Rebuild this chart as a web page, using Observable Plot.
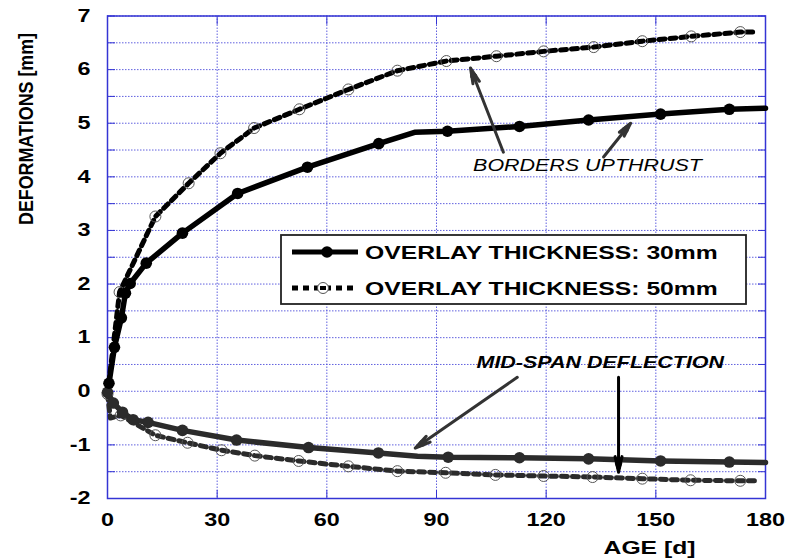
<!DOCTYPE html>
<html>
<head>
<meta charset="utf-8">
<script src="https://cdn.jsdelivr.net/npm/d3@7"></script>
<script src="https://cdn.jsdelivr.net/npm/@observablehq/plot@0.6"></script>
<style>
  body { margin: 0; background: #fff; }
  #wrap { position: relative; width: 790px; height: 559px; }
  #legend { position: absolute; left: 280px; top: 234px; }
  text { font-family: "Liberation Sans", Arial, sans-serif; }
</style>
</head>
<body>
<div id="wrap"></div>
<script>
// ---------- data ----------
const xTicks = [0, 30, 60, 90, 120, 150, 180];
const yTicks = [-2, -1, 0, 1, 2, 3, 4, 5, 6, 7];
const yGrid = [-2, -1.5, -1, -0.5, 0, 0.5, 1, 1.5, 2, 2.5, 3, 3.5, 4, 4.5, 5, 5.5, 6, 6.5, 7];
const xGrid = [30, 60, 90, 120, 150];

// 30 mm overlay, borders upthrust (upper) – solid with filled circles
const ageUp30 = [0.4, 1.9, 3.8, 4.9, 6.2, 10.6, 20.5, 35.6, 54.7, 74.2, 84, 93, 112.7, 131.6, 151.3, 170.1, 180];
const defUp30 = [0.15, 0.82, 1.37, 1.83, 2.01, 2.39, 2.95, 3.69, 4.18, 4.62, 4.83, 4.85, 4.94, 5.06, 5.17, 5.26, 5.28];
const markUp30 = [1, 1, 1, 1, 1, 1, 1, 1, 1, 1, 0, 1, 1, 1, 1, 1, 0];

// 30 mm overlay, mid-span deflection (lower)
const ageLo30 = [0, 1.6, 4.1, 7.0, 11.1, 20.5, 35.3, 55, 74.1, 84.8, 93.2, 112.7, 131.6, 151.3, 170.1, 180];
const defLo30 = [-0.02, -0.22, -0.39, -0.53, -0.58, -0.73, -0.91, -1.05, -1.15, -1.21, -1.23, -1.24, -1.26, -1.3, -1.32, -1.33];
const markLo30 = [1, 1, 1, 1, 1, 1, 1, 1, 1, 0, 1, 1, 1, 1, 1, 0];

// 50 mm overlay, borders upthrust (upper) – dashed with open circles
const ageUp50 = [0, 3.3, 13.1, 22.2, 30.9, 40.1, 52.5, 65.9, 79.3, 92.7, 106.4, 119.3, 133, 146.3, 159.7, 173.1, 177];
const defUp50 = [-0.05, 1.85, 3.26, 3.88, 4.44, 4.91, 5.26, 5.63, 5.98, 6.16, 6.25, 6.34, 6.42, 6.53, 6.62, 6.7, 6.7];
const markUp50 = [0, 1, 1, 1, 1, 1, 1, 1, 1, 1, 1, 1, 1, 1, 1, 1, 0];

// 50 mm overlay, mid-span deflection (lower)
const ageLo50 = [0, 0.8, 3.6, 13.1, 21.9, 31.2, 40.3, 52.3, 65.9, 79.3, 92.5, 106.1, 119.3, 132.7, 146.3, 159.5, 173.1, 178];
const defLo50 = [-0.05, -0.5, -0.45, -0.82, -0.96, -1.1, -1.2, -1.3, -1.4, -1.49, -1.52, -1.56, -1.58, -1.6, -1.63, -1.66, -1.67, -1.67];
const markLo50 = [1, 0, 1, 1, 1, 1, 1, 1, 1, 1, 1, 1, 1, 1, 1, 1, 1, 0];

// annotations
const noteText = ["BORDERS UPTHRUST", "MID-SPAN DEFLECTION"];
const noteAge = [131.3, 134.8];
const noteDef = [4.2, 0.53];
const arrowX1 = [108.3, 135.7, 112.1, 139.8];
const arrowY1 = [4.46, 4.37, 0.26, 0.26];
const arrowX2 = [99.3, 143.1, 84.2, 139.8];
const arrowY2 = [6.03, 5.0, -1.06, -1.51];

const legendLabels = ["OVERLAY THICKNESS: 30mm", "OVERLAY THICKNESS: 50mm"];
const xLabel = "AGE [d]";
const yLabel = "DEFORMATIONS [mm]";

// ---------- build tables ----------
const toRows = (xs, ys, ms) => xs.map((x, i) => ({x, y: ys[i], m: ms[i]}));
const up30 = toRows(ageUp30, defUp30, markUp30);
const lo30 = toRows(ageLo30, defLo30, markLo30);
const up50 = toRows(ageUp50, defUp50, markUp50);
const lo50 = toRows(ageLo50, defLo50, markLo50);
const notes = noteText.map((t, i) => ({t, x: noteAge[i], y: noteDef[i]}));
const arrows = arrowX1.map((x1, i) => ({x1, y1: arrowY1[i], x2: arrowX2[i], y2: arrowY2[i], vertical: i === 3}));

const gridColor = "#5050dc";
const frameColor = "#3434d4";
const dash50 = "6,5";

const plot = Plot.plot({
  width: 790,
  height: 559,
  marginLeft: 107,
  marginRight: 25,
  marginTop: 15.5,
  marginBottom: 61,
  style: {fontFamily: "'Liberation Sans', Arial, sans-serif", background: "#fff", color: "#000"},
  x: {domain: [0, 180]},
  y: {domain: [-2, 7]},
  marks: [
    Plot.gridY(yGrid, {stroke: gridColor, strokeOpacity: 0.9, strokeWidth: 1, strokeDasharray: "1.5,1.5"}),
    Plot.gridX(xGrid, {stroke: gridColor, strokeOpacity: 0.9, strokeWidth: 1, strokeDasharray: "1.5,1.5"}),
    Plot.axisY(yGrid, {anchor: "left", tickSize: -8, stroke: frameColor, tickFormat: () => "", label: null}),
    Plot.axisY(yGrid, {anchor: "right", tickSize: -8, stroke: frameColor, tickFormat: () => "", label: null}),
    Plot.axisX(xGrid, {anchor: "top", tickSize: -8, stroke: frameColor, tickFormat: () => "", label: null}),
    Plot.axisX(xGrid, {anchor: "bottom", tickSize: -8, stroke: frameColor, tickFormat: () => "", label: null}),
    Plot.axisY(yTicks, {anchor: "left", tickSize: 0, tickPadding: 17, fontSize: 18, fontWeight: "bold", tickFormat: d => String(d), label: null}),
    Plot.axisX(xTicks, {anchor: "bottom", tickSize: 0, tickPadding: 15, fontSize: 18, fontWeight: "bold", tickFormat: d => String(d), label: null}),
    Plot.frame({stroke: frameColor, strokeWidth: 1.5}),
    // 50 mm lines
    Plot.line(lo50, {x: "x", y: "y", stroke: "#2b2b2b", strokeWidth: 5, strokeDasharray: dash50}),
    Plot.line(up50, {x: "x", y: "y", stroke: "#000", strokeWidth: 5, strokeDasharray: dash50}),
    Plot.dot(lo50.filter(d => d.m), {x: "x", y: "y", r: 5.5, stroke: "#555", strokeWidth: 1, fill: "none"}),
    Plot.dot(up50.filter(d => d.m), {x: "x", y: "y", r: 5.5, stroke: "#555", strokeWidth: 1, fill: "none"}),
    // 30 mm lines
    Plot.line(lo30, {x: "x", y: "y", stroke: "#2b2b2b", strokeWidth: 5.5}),
    Plot.dot(lo30.filter(d => d.m), {x: "x", y: "y", r: 5.8, fill: "#2b2b2b"}),
    Plot.line(up30, {x: "x", y: "y", stroke: "#000", strokeWidth: 5.5}),
    Plot.dot(up30.filter(d => d.m), {x: "x", y: "y", r: 5.8, fill: "#000"}),
    // annotations
    Plot.arrow(arrows, {x1: "x1", y1: "y1", x2: "x2", y2: "y2", stroke: d => d.vertical ? "#000" : "#333", strokeWidth: 1, headLength: 14, headAngle: 40}),
    Plot.arrow(arrows, {x1: "x1", y1: "y1", x2: "x2", y2: "y2", stroke: d => d.vertical ? "#000" : "#333", strokeWidth: 3, headLength: 8, headAngle: 25}),
    Plot.text(notes.slice(0, 1), {x: "x", y: "y", text: "t", fontSize: 16.5, fontStyle: "italic", fill: "#000"}),
    Plot.text(notes.slice(1), {x: "x", y: "y", text: "t", fontSize: 16.5, fontStyle: "italic", fontWeight: "bold", fill: "#000"}),
    Plot.text([xLabel], {text: d => d, frameAnchor: "bottom-left", textAnchor: "middle", lineAnchor: "middle", dx: 542, dy: 49, fontSize: 19, fontWeight: "bold"}),
    Plot.text([yLabel], {text: d => d, frameAnchor: "top-left", textAnchor: "middle", lineAnchor: "middle", dx: -81, dy: 113, rotate: -90, fontSize: 21, fontWeight: "bold"})
  ]
});

const wrap = document.getElementById("wrap");
wrap.appendChild(plot);

// legend overlay
const L = d3.select(wrap).append("svg").attr("id", "legend").attr("width", 468).attr("height", 72)
  .style("font-family", "'Liberation Sans', Arial, sans-serif");
L.append("rect").attr("x", 1).attr("y", 1).attr("width", 465).attr("height", 69).attr("fill", "#fff").attr("stroke", "#222").attr("stroke-width", 1.8);
const rows = legendLabels.map((t, i) => ({t, i}));
rows.forEach(({t, i}) => {
  const cy = 18 + i * 36;
  const g = L.append("g");
  if (i === 0) {
    g.append("line").attr("x1", 12).attr("x2", 78).attr("y1", cy).attr("y2", cy).attr("stroke", "#000").attr("stroke-width", 5);
    g.append("circle").attr("cx", 47).attr("cy", cy).attr("r", 5.8).attr("fill", "#000");
  } else {
    g.append("line").attr("x1", 12).attr("x2", 78).attr("y1", cy).attr("y2", cy).attr("stroke", "#000").attr("stroke-width", 5).attr("stroke-dasharray", dash50);
    g.append("circle").attr("cx", 43).attr("cy", cy).attr("r", 5.5).attr("fill", "#fff").attr("stroke", "#555").attr("stroke-width", 1);
    g.append("rect").attr("x", 40).attr("y", cy - 2).attr("width", 6).attr("height", 4).attr("fill", "#000");
  }
  g.append("text").attr("x", 85).attr("y", cy + 7).attr("font-size", 19).attr("font-weight", "bold").attr("fill", "#000").text(t);
});

// emulate the reference's horizontally stretched lettering
function stretch(nodes, k) {
  nodes.forEach(n => {
    const len = n.getComputedTextLength();
    if (len > 0) { n.setAttribute("textLength", (len * k).toFixed(1)); n.setAttribute("lengthAdjust", "spacingAndGlyphs"); }
  });
}
const allText = Array.from(plot.querySelectorAll("text"));
const yLabelNodes = allText.filter(n => n.textContent === yLabel);
stretch(allText.filter(n => n.textContent !== yLabel), 1.3);
yLabelNodes.forEach(n => { n.setAttribute("textLength", 192); n.setAttribute("lengthAdjust", "spacingAndGlyphs"); });
stretch(Array.from(document.querySelectorAll("#legend text")), 1.3);
</script>
</body>
</html>
